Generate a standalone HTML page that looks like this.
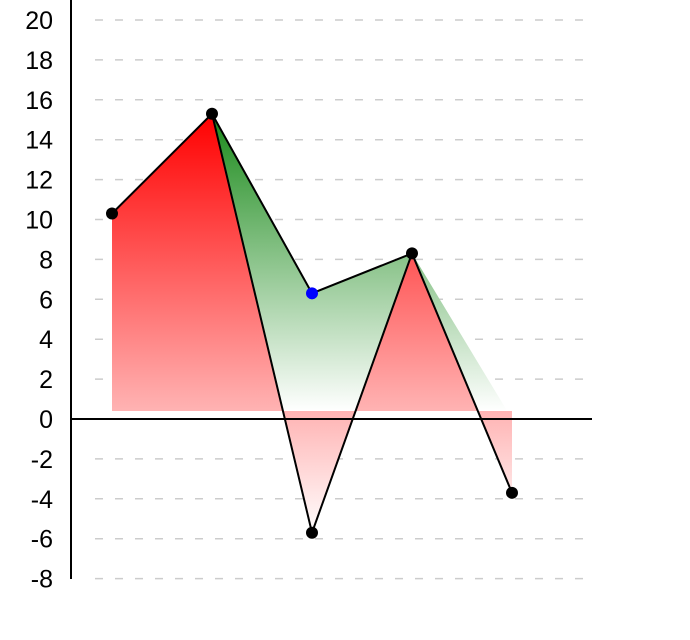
<!DOCTYPE html>
<html><head><meta charset="utf-8"><style>
html,body{margin:0;padding:0;background:#fff}
svg{display:block;font-family:"Liberation Sans",sans-serif}
</style></head><body>
<svg id="chart" width="690" height="640" viewBox="0 0 690 640" xmlns="http://www.w3.org/2000/svg">
<defs>
<linearGradient id="gRed" gradientUnits="userSpaceOnUse" x1="0" y1="114" x2="0" y2="411">
<stop offset="0" stop-color="#ff0000"/><stop offset="1" stop-color="#ffb3b3"/></linearGradient>
<linearGradient id="gPink" gradientUnits="userSpaceOnUse" x1="0" y1="411" x2="0" y2="534">
<stop offset="0" stop-color="#ffb3b3"/><stop offset="1" stop-color="#ffffff"/></linearGradient>
<linearGradient id="gGreen" gradientUnits="userSpaceOnUse" x1="0" y1="114" x2="0" y2="411">
<stop offset="0" stop-color="#1a8a1a"/><stop offset="1" stop-color="#ffffff"/></linearGradient>
<clipPath id="above"><rect x="0" y="0" width="690" height="411"/></clipPath>
<clipPath id="below"><rect x="0" y="411" width="690" height="229"/></clipPath>
</defs>
<g id="grid"></g>
<g id="areas"></g>
<g id="lines"></g>
<g id="axes"></g>
</svg>
<script>
const yTicks = [20,18,16,14,12,10,8,6,4,2,0,-2,-4,-6,-8];
const categories = [0,1,2,3,4];
const seriesA = [10.3,15.3,-5.7,8.3,-3.7];
const seriesB = [null,15.3,6.3,8.3,0];
const baseline = 0.4;
const NS='http://www.w3.org/2000/svg';
const Y = v => 419 - v*19.95;
const X = i => 112 + i*100;
function mk(tag, attrs, parent){const e=document.createElementNS(NS,tag);for(const k in attrs)e.setAttribute(k,attrs[k]);parent.appendChild(e);return e;}
const grid=document.getElementById('grid'),areas=document.getElementById('areas'),lines=document.getElementById('lines'),axes=document.getElementById('axes');
yTicks.forEach(t=>{
  if(t!==0){const l=mk('line',{x1:95,x2:585,y1:Y(t),y2:Y(t),stroke:'#cccccc','stroke-width':1.5,'stroke-dasharray':'8,12'},grid);
  
  }
  const tx=mk('text',{x:53,y:Y(t)+9,'text-anchor':'end','font-size':25,fill:'#000'},axes);
  
  
  tx.textContent=t;
});
const bIdx=categories.filter(i=>seriesB[i]!==null);
let gp='M'+X(bIdx[0])+','+Y(baseline);
bIdx.forEach(i=>gp+=' L'+X(i)+','+Y(seriesB[i]));
gp+=' L'+X(bIdx[bIdx.length-1])+','+Y(baseline)+' Z';
const ga=mk('path',{d:gp,fill:'url(#gGreen)','clip-path':'url(#above)'},areas);


let ap='M'+X(0)+','+Y(baseline);
categories.forEach(i=>ap+=' L'+X(i)+','+Y(seriesA[i]));
ap+=' L'+X(categories.length-1)+','+Y(baseline)+' Z';
const ra=mk('path',{d:ap,fill:'url(#gRed)','clip-path':'url(#above)'},areas);


const pa=mk('path',{d:ap,fill:'url(#gPink)','clip-path':'url(#below)'},areas);


const bl=mk('polyline',{points:bIdx.slice(0,-1).map(i=>X(i)+','+Y(seriesB[i])).join(' '),fill:'none',stroke:'#000','stroke-width':2},lines);


const al=mk('polyline',{points:categories.map(i=>X(i)+','+Y(seriesA[i])).join(' '),fill:'none',stroke:'#000','stroke-width':2},lines);


categories.forEach(i=>{const c=mk('circle',{cx:X(i),cy:Y(seriesA[i]),r:6,fill:'#000'},lines);

});
const bp=mk('circle',{cx:X(2),cy:Y(seriesB[2]),r:6,fill:'#0000ff'},lines);


const ya=mk('line',{x1:71,x2:71,y1:0,y2:579,stroke:'#000','stroke-width':2},axes);


const zl=mk('line',{x1:71,x2:592,y1:Y(0),y2:Y(0),stroke:'#000','stroke-width':2},axes);


</script>
</body></html>
